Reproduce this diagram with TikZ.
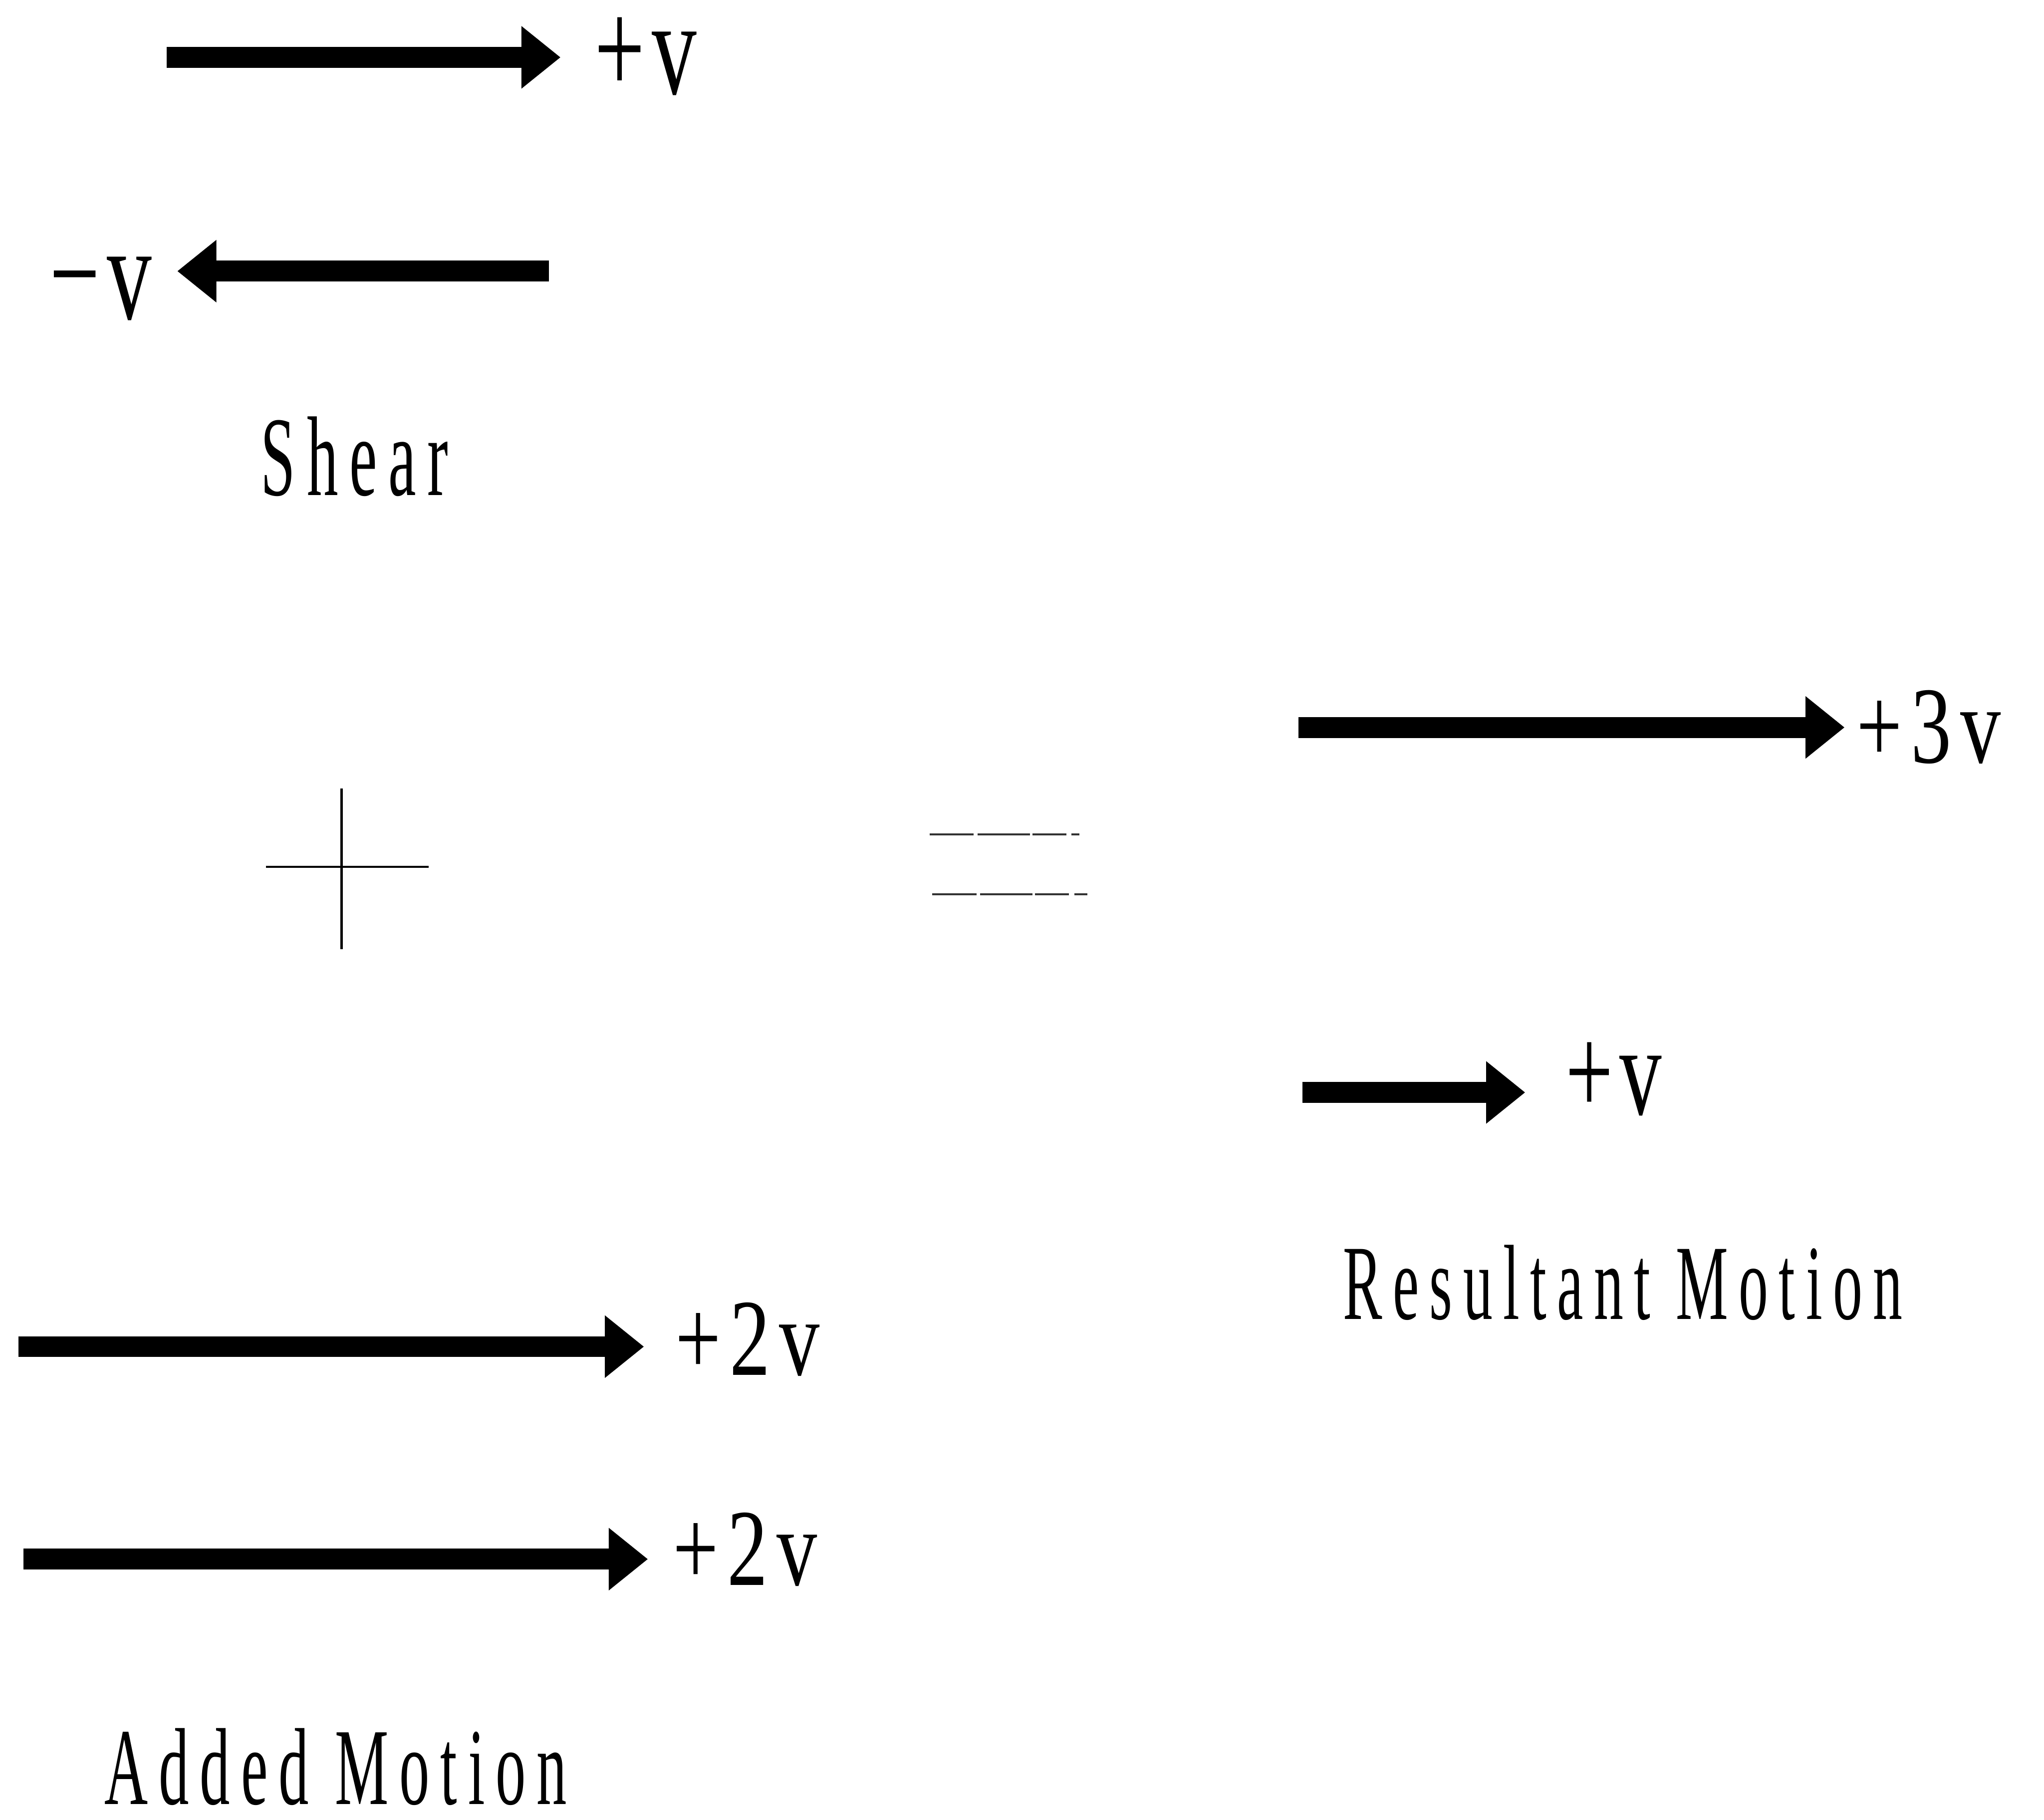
\documentclass[tikz,border=0pt]{standalone}
\usepackage{fontspec}
\usetikzlibrary{arrows.meta}
\newfontfamily\labfont[FakeStretch=0.55,LetterSpace=10]{Liberation Serif}
\newfontfamily\velfont[FakeStretch=0.66,LetterSpace=5]{Liberation Serif}
\newfontfamily\multfont[FakeStretch=0.74,LetterSpace=8]{Liberation Serif}
\begin{document}
\begin{tikzpicture}[x=1pt,y=-1pt,
  fatarrow/.style={line width=16pt,-{Triangle[length=30pt,width=46pt]}},
  txt/.style={inner sep=0pt,anchor=base west,text depth=0pt,text height=60pt},
  opline/.style={line width=1.6pt},
  eqline/.style={line width=1.3pt,black!80,dash pattern=on 34pt off 3pt on 40pt off 2pt on 26pt off 4pt}]
\useasboundingbox (0,0) rectangle (1568,1396);

% --- Shear ---
\coordinate (s1a) at (128,44);  \coordinate (s1b) at (430,44);
\draw[fatarrow] (s1a) -- (s1b);
\node[txt,font=\velfont\fontsize{104}{110}\selectfont] (s1l) at (456,72) {+v};
\coordinate (s2a) at (421,208); \coordinate (s2b) at (136,208);
\draw[fatarrow] (s2a) -- (s2b);
\node[txt,font=\velfont\fontsize{104}{110}\selectfont] (s2l) at (38,245) {−v};
\node[txt,font=\labfont\fontsize{87}{95}\selectfont] (shear) at (200,380) {Shear};

% --- plus sign ---
\coordinate (pv1) at (262,605); \coordinate (pv2) at (262,728);
\coordinate (ph1) at (204,665); \coordinate (ph2) at (329,665);
\draw[opline] (pv1) -- (pv2);
\draw[opline] (ph1) -- (ph2);

% --- equals sign ---
\coordinate (e1a) at (713,640); \coordinate (e1b) at (828,640);
\coordinate (e2a) at (715,686); \coordinate (e2b) at (834,686);
\draw[eqline] (e1a) -- (e1b);
\draw[eqline] (e2a) -- (e2b);

% --- Resultant motion ---
\coordinate (r1a) at (996,558); \coordinate (r1b) at (1415,558);
\draw[fatarrow] (r1a) -- (r1b);
\node[txt,font=\multfont\fontsize{84}{90}\selectfont] (r1l) at (1424,585) {+3v};
\coordinate (r2a) at (999,838); \coordinate (r2b) at (1170,838);
\draw[fatarrow] (r2a) -- (r2b);
\node[txt,font=\velfont\fontsize{98}{104}\selectfont] (r2l) at (1201,855) {+v};
\node[txt,font=\labfont\fontsize{82}{90}\selectfont] (result) at (1030,1012) {Resultant Motion};

% --- Added motion ---
\coordinate (a1a) at (14,1033); \coordinate (a1b) at (494,1033);
\draw[fatarrow] (a1a) -- (a1b);
\node[txt,font=\multfont\fontsize{84}{90}\selectfont] (a1l) at (518,1055) {+2v};
\coordinate (a2a) at (18,1196); \coordinate (a2b) at (497,1196);
\draw[fatarrow] (a2a) -- (a2b);
\node[txt,font=\multfont\fontsize{84}{90}\selectfont] (a2l) at (516,1216) {+2v};
\node[txt,font=\labfont\fontsize{84}{90}\selectfont] (added) at (80,1384) {Added Motion};
\end{tikzpicture}
\end{document}
